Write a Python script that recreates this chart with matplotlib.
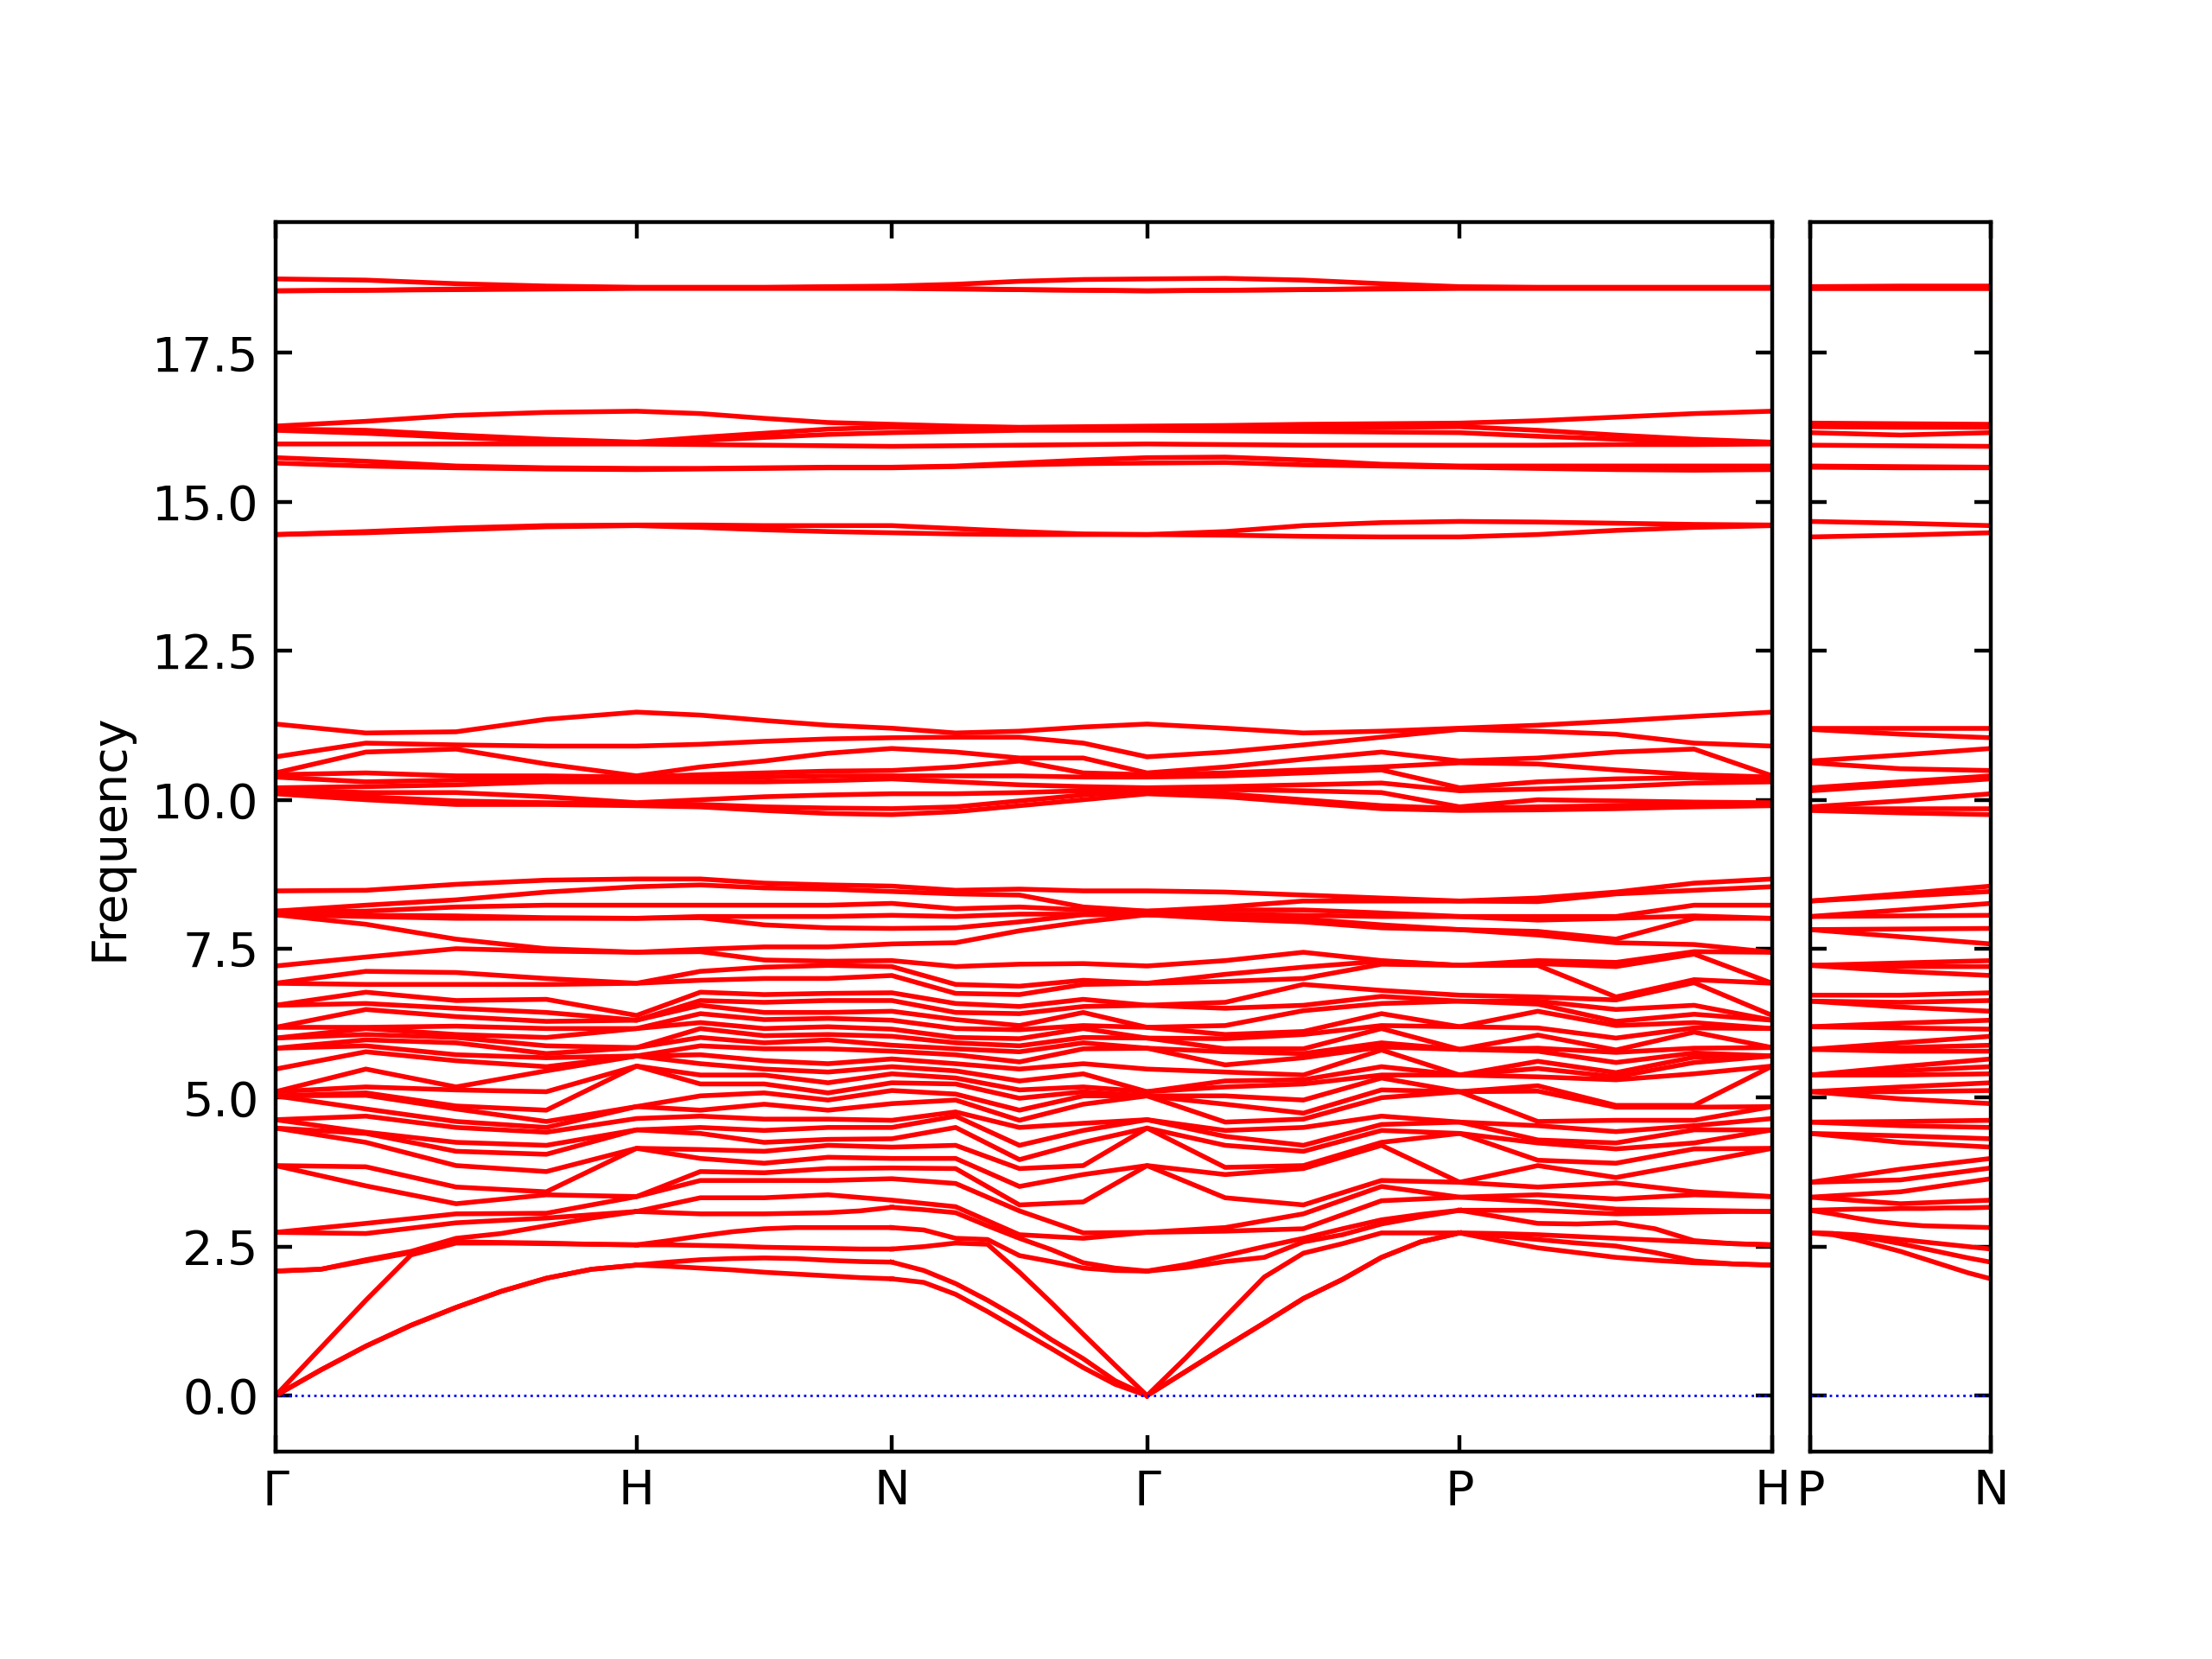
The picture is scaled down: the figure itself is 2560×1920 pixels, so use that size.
import numpy as np
import matplotlib
matplotlib.use("Agg")
import matplotlib.pyplot as plt

# ---------------- path description ----------------
path_labels = ["Γ", "H", "N", "Γ", "P", "H"]
segment_lengths = [1.0, 0.7071, 0.7071, 0.8660, 0.8660]
segment_fractions = [0.0, 0.25, 0.5, 0.75, 1.0]
fine_fractions = [0.0, 0.125, 0.25, 0.375, 0.5, 0.625, 0.75, 0.875, 1.0]
branch_labels = ["P", "N"]
branch_length = 0.5
branch_fractions = [0.0, 0.5, 1.0]

# ---------------- five lowest bands (acoustic region), finer sampling per segment ----------------
lowest_GH = [[0, 0.43, 0.83, 1.18, 1.48, 1.75, 1.97, 2.12, 2.19],
             [0, 0.43, 0.83, 1.18, 1.48, 1.75, 1.97, 2.12, 2.19],
             [0, 0.80, 1.60, 2.36, 2.56, 2.56, 2.55, 2.54, 2.53],
             [2.09, 2.12, 2.26, 2.40, 2.58, 2.57, 2.56, 2.54, 2.53],
             [2.09, 2.12, 2.28, 2.42, 2.64, 2.72, 2.85, 2.98, 3.09]]
lowest_HN = [[2.19, 2.17, 2.14, 2.11, 2.07, 2.04, 2.01, 1.98, 1.96],
             [2.19, 2.24, 2.28, 2.30, 2.31, 2.30, 2.27, 2.25, 2.24],
             [2.53, 2.53, 2.52, 2.51, 2.49, 2.48, 2.47, 2.46, 2.46],
             [2.53, 2.60, 2.68, 2.75, 2.80, 2.82, 2.82, 2.82, 2.82],
             [3.09, 3.07, 3.05, 3.05, 3.05, 3.06, 3.07, 3.10, 3.16]]
lowest_NG = [[1.96, 1.90, 1.70, 1.41, 1.10, 0.79, 0.47, 0.19, 0],
             [2.24, 2.10, 1.88, 1.60, 1.29, 0.94, 0.62, 0.25, 0],
             [2.46, 2.50, 2.56, 2.54, 2.07, 1.56, 1.03, 0.51, 0],
             [2.82, 2.78, 2.64, 2.62, 2.35, 2.25, 2.14, 2.10, 2.09],
             [3.16, 3.12, 3.07, 2.85, 2.64, 2.45, 2.23, 2.14, 2.09]]
lowest_GP = [[0, 0.41, 0.82, 1.22, 1.63, 1.95, 2.32, 2.58, 2.73],
             [0, 0.41, 0.82, 1.22, 1.63, 1.95, 2.32, 2.58, 2.73],
             [0, 0.64, 1.32, 1.99, 2.39, 2.55, 2.73, 2.73, 2.73],
             [2.09, 2.15, 2.25, 2.32, 2.58, 2.70, 2.88, 3.00, 3.11],
             [2.09, 2.20, 2.35, 2.50, 2.64, 2.80, 2.95, 3.04, 3.11]]
lowest_PH = [[2.73, 2.60, 2.48, 2.40, 2.32, 2.27, 2.23, 2.21, 2.19],
             [2.73, 2.68, 2.62, 2.56, 2.51, 2.40, 2.26, 2.21, 2.19],
             [2.73, 2.72, 2.70, 2.67, 2.64, 2.61, 2.58, 2.55, 2.53],
             [3.11, 3.00, 2.89, 2.88, 2.90, 2.80, 2.60, 2.55, 2.53],
             [3.11, 3.11, 3.11, 3.08, 3.05, 3.06, 3.08, 3.09, 3.09]]
lowest_PN = [[2.73, 2.70, 2.62, 2.52, 2.42, 2.30, 2.18, 2.06, 1.96],
             [2.73, 2.72, 2.68, 2.62, 2.55, 2.47, 2.39, 2.31, 2.24],
             [2.73, 2.72, 2.70, 2.66, 2.62, 2.58, 2.54, 2.50, 2.46],
             [3.11, 3.05, 2.98, 2.92, 2.88, 2.85, 2.84, 2.83, 2.82],
             [3.11, 3.12, 3.13, 3.13, 3.14, 3.14, 3.15, 3.15, 3.16]]

# ---------------- remaining bands below 9 (sorted values at each sample point) ----------------
rest_G = [2.74, 2.74, 3.86, 3.86, 4.49, 4.49, 4.63, 4.63, 5.03, 5.03, 5.03, 5.10, 5.10, 5.48, 5.83, 5.83,
          6.00, 6.00, 6.18, 6.18, 6.55, 6.55, 6.92, 6.92, 7.21, 8.07, 8.07, 8.07, 8.13, 8.13, 8.47]
rest_GH1 = [2.72, 2.89, 3.52, 3.84, 4.25, 4.40, 4.42, 4.69, 4.81, 5.04, 5.08, 5.18, 5.48, 5.77, 5.87, 5.97,
            6.06, 6.16, 6.18, 6.48, 6.58, 6.77, 6.90, 7.12, 7.36, 7.91, 8.04, 8.06, 8.13, 8.23, 8.48]
rest_GH2 = [2.90, 3.05, 3.22, 3.50, 3.86, 4.10, 4.25, 4.50, 4.60, 4.81, 4.86, 5.13, 5.18, 5.62, 5.72, 5.92,
            6.01, 6.06, 6.20, 6.36, 6.50, 6.63, 6.90, 7.10, 7.50, 7.66, 8.01, 8.05, 8.20, 8.32, 8.58]
rest_GH3 = [2.98, 3.06, 3.37, 3.42, 3.76, 4.05, 4.20, 4.42, 4.50, 4.60, 4.79, 5.10, 5.45, 5.52, 5.67, 5.74,
            5.87, 6.01, 6.16, 6.28, 6.43, 6.65, 6.90, 7.00, 7.46, 7.50, 8.01, 8.02, 8.23, 8.45, 8.65]
rest_H = [3.09, 3.34, 3.34, 4.15, 4.15, 4.46, 4.46, 4.65, 4.85, 4.85, 5.53, 5.53, 5.70, 5.70, 5.70, 5.84,
          5.84, 6.16, 6.16, 6.30, 6.30, 6.38, 6.92, 6.92, 7.44, 7.44, 8.01, 8.01, 8.23, 8.54, 8.67]
rest_HN1 = [3.32, 3.61, 3.76, 3.98, 4.13, 4.40, 4.50, 4.69, 4.79, 5.03, 5.23, 5.38, 5.57, 5.72, 5.87, 6.01,
            6.16, 6.26, 6.41, 6.55, 6.63, 6.77, 6.97, 7.12, 7.45, 7.49, 8.02, 8.04, 8.23, 8.57, 8.67]
rest_HN2 = [3.32, 3.61, 3.74, 3.90, 4.10, 4.25, 4.45, 4.64, 4.89, 5.08, 5.23, 5.38, 5.48, 5.62, 5.82, 5.92,
            6.04, 6.16, 6.31, 6.43, 6.60, 6.73, 7.00, 7.19, 7.31, 7.53, 7.90, 8.04, 8.23, 8.52, 8.60]
rest_HN3 = [3.37, 3.61, 3.81, 4.00, 4.20, 4.30, 4.50, 4.64, 4.79, 4.96, 5.08, 5.25, 5.43, 5.57, 5.82, 5.97,
            6.06, 6.19, 6.33, 6.43, 6.63, 6.75, 7.00, 7.22, 7.29, 7.53, 7.85, 8.04, 8.23, 8.50, 8.57]
rest_N = [3.28, 3.64, 3.82, 3.98, 4.17, 4.31, 4.50, 4.62, 4.90, 5.12, 5.25, 5.40, 5.52, 5.65, 5.78, 5.88,
          6.03, 6.15, 6.30, 6.45, 6.63, 6.76, 7.05, 7.20, 7.30, 7.58, 7.84, 8.06, 8.26, 8.46, 8.55]
rest_NG1 = [3.17, 3.56, 3.81, 3.98, 4.20, 4.50, 4.69, 4.76, 4.96, 5.06, 5.23, 5.33, 5.45, 5.57, 5.72, 5.82,
            5.92, 6.01, 6.16, 6.31, 6.43, 6.58, 6.75, 6.90, 7.20, 7.60, 7.85, 8.04, 8.17, 8.42, 8.48]
rest_NG2 = [2.70, 3.10, 3.20, 3.51, 3.81, 3.96, 4.20, 4.50, 4.62, 4.79, 4.99, 5.13, 5.28, 5.48, 5.60, 5.77,
            5.87, 5.99, 6.14, 6.21, 6.41, 6.53, 6.73, 6.87, 7.24, 7.80, 7.95, 8.08, 8.20, 8.40, 8.50]
rest_NG3 = [2.64, 2.73, 3.25, 3.71, 3.86, 4.25, 4.45, 4.57, 4.89, 5.03, 5.10, 5.18, 5.40, 5.57, 5.82, 5.92,
            6.01, 6.16, 6.21, 6.43, 6.53, 6.65, 6.90, 6.97, 7.25, 7.95, 8.07, 8.08, 8.15, 8.20, 8.47]
rest_GP1 = [2.76, 2.82, 3.32, 3.71, 3.83, 4.20, 4.35, 4.45, 4.59, 4.89, 5.03, 5.18, 5.28, 5.43, 5.55, 5.77,
            5.82, 5.99, 6.06, 6.21, 6.50, 6.60, 6.95, 7.07, 7.30, 8.00, 8.05, 8.08, 8.15, 8.20, 8.45]
rest_GP2 = [2.80, 3.05, 3.20, 3.81, 3.86, 4.10, 4.20, 4.50, 4.64, 4.74, 4.96, 5.23, 5.30, 5.38, 5.67, 5.74,
            5.82, 6.06, 6.11, 6.46, 6.55, 6.90, 7.00, 7.19, 7.44, 7.95, 8.00, 8.06, 8.15, 8.30, 8.40]
rest_GP3 = [3.27, 3.51, 3.61, 4.20, 4.25, 4.45, 4.55, 4.69, 5.00, 5.13, 5.33, 5.38, 5.52, 5.80, 5.85, 5.92,
            6.16, 6.21, 6.41, 6.58, 6.70, 6.80, 7.24, 7.29, 7.30, 7.85, 7.90, 8.04, 8.10, 8.30, 8.35]
rest_P = [3.33, 3.33, 3.58, 3.58, 4.40, 4.40, 4.59, 4.59, 5.10, 5.10, 5.10, 5.38, 5.38, 5.38, 5.81, 5.81,
          5.81, 6.19, 6.19, 6.62, 6.62, 6.72, 7.22, 7.22, 7.22, 7.82, 7.82, 8.04, 8.04, 8.30, 8.30]
rest_PH1 = [3.25, 3.37, 3.50, 3.86, 3.95, 4.24, 4.29, 4.53, 4.60, 5.11, 5.20, 5.35, 5.49, 5.61, 5.78, 5.83,
            6.05, 6.17, 6.45, 6.57, 6.62, 6.69, 7.22, 7.25, 7.30, 7.73, 7.79, 7.98, 8.04, 8.29, 8.35]
rest_PH2 = [3.13, 3.30, 3.57, 3.66, 3.90, 4.14, 4.24, 4.43, 4.62, 4.84, 4.87, 5.30, 5.35, 5.42, 5.59, 5.76,
            5.80, 6.00, 6.21, 6.28, 6.48, 6.64, 6.69, 7.20, 7.27, 7.60, 7.66, 8.01, 8.04, 8.42, 8.45]
rest_PH3 = [3.11, 3.37, 3.42, 3.90, 4.14, 4.24, 4.46, 4.53, 4.62, 4.84, 4.87, 5.40, 5.59, 5.68, 5.75, 5.83,
            6.10, 6.17, 6.26, 6.40, 6.55, 6.93, 6.98, 7.41, 7.45, 7.57, 8.01, 8.05, 8.23, 8.48, 8.60]
rest_PN_mid = [3.22, 3.42, 3.62, 3.80, 4.25, 4.36, 4.53, 4.60, 4.98, 5.10, 5.18, 5.38, 5.45, 5.52, 5.78, 5.84,
               5.92, 6.17, 6.25, 6.52, 6.60, 6.72, 7.12, 7.20, 7.26, 7.70, 7.83, 8.05, 8.15, 8.38, 8.42]

# ---------------- 10-11.5 cluster (sorted values at each sample point) ----------------
mid_G = [10.10, 10.15, 10.17, 10.20, 10.38, 10.42, 10.45, 10.72, 11.27]
mid_GH1 = [10.00, 10.05, 10.12, 10.22, 10.30, 10.45, 10.80, 10.95, 11.12]
mid_GH2 = [9.92, 9.98, 10.12, 10.25, 10.33, 10.40, 10.85, 10.92, 11.14]
mid_GH3 = [9.92, 9.95, 10.05, 10.30, 10.35, 10.40, 10.60, 10.90, 11.35]
mid_H = [9.90, 9.93, 9.95, 10.30, 10.33, 10.38, 10.40, 10.90, 11.47]
mid_HN1 = [9.88, 9.92, 10.00, 10.30, 10.35, 10.42, 10.55, 10.93, 11.42]
mid_HN2 = [9.82, 9.88, 10.05, 10.30, 10.38, 10.45, 10.65, 10.98, 11.33]
mid_HN3 = [9.77, 9.86, 10.08, 10.32, 10.40, 10.48, 10.78, 11.02, 11.25]
mid_N = [9.75, 9.85, 10.10, 10.35, 10.40, 10.49, 10.86, 11.04, 11.20]
mid_NG1 = [9.80, 9.88, 10.10, 10.30, 10.40, 10.55, 10.80, 11.05, 11.12]
mid_NG2 = [9.90, 9.98, 10.12, 10.25, 10.40, 10.65, 10.70, 11.05, 11.15]
mid_NG3 = [10.00, 10.08, 10.15, 10.22, 10.38, 10.45, 10.70, 10.95, 11.22]
mid_GP1 = [10.05, 10.10, 10.17, 10.22, 10.40, 10.45, 10.55, 10.80, 11.20]
mid_GP2 = [9.95, 10.00, 10.15, 10.25, 10.45, 10.50, 10.68, 10.92, 11.12]
mid_GP3 = [9.85, 9.90, 10.12, 10.28, 10.50, 10.55, 10.80, 11.05, 11.15]
mid_P = [9.82, 9.85, 9.88, 10.15, 10.20, 10.62, 10.65, 11.18, 11.20]
mid_PH1 = [9.83, 9.88, 10.00, 10.18, 10.30, 10.60, 10.70, 11.15, 11.25]
mid_PH2 = [9.85, 9.90, 9.98, 10.22, 10.35, 10.50, 10.80, 11.10, 11.32]
mid_PH3 = [9.88, 9.92, 9.96, 10.28, 10.37, 10.42, 10.85, 10.95, 11.40]
mid_PN_mid = [9.78, 9.85, 9.98, 10.25, 10.30, 10.52, 10.75, 11.10, 11.20]

# ---------------- high bands (one list per band, along the main path) ----------------
band_14a = [14.45, 14.50, 14.56, 14.60, 14.61, 14.61, 14.60, 14.60, 14.60, 14.55, 14.50, 14.46, 14.45,
            14.50, 14.60, 14.65, 14.67, 14.66, 14.64, 14.62, 14.61]
band_14b = [14.45, 14.48, 14.53, 14.58, 14.60, 14.57, 14.53, 14.50, 14.48, 14.46, 14.45, 14.45, 14.45,
            14.44, 14.42, 14.41, 14.41, 14.45, 14.52, 14.57, 14.60]
band_15a = [15.74, 15.68, 15.60, 15.57, 15.56, 15.56, 15.57, 15.58, 15.58, 15.60, 15.65, 15.70, 15.74,
            15.75, 15.70, 15.63, 15.60, 15.60, 15.60, 15.60, 15.60]
band_15b = [15.65, 15.60, 15.57, 15.55, 15.54, 15.55, 15.56, 15.57, 15.57, 15.59, 15.62, 15.64, 15.65,
            15.66, 15.62, 15.60, 15.58, 15.56, 15.54, 15.53, 15.54]
band_16a = [16.27, 16.35, 16.45, 16.50, 16.52, 16.48, 16.40, 16.33, 16.30, 16.27, 16.25, 16.26, 16.27,
            16.28, 16.30, 16.31, 16.32, 16.36, 16.42, 16.48, 16.52]
band_16b = [16.22, 16.20, 16.12, 16.05, 16.00, 16.08, 16.15, 16.22, 16.25, 16.24, 16.23, 16.22, 16.22,
            16.23, 16.24, 16.25, 16.26, 16.20, 16.12, 16.05, 16.00]
band_16c = [16.20, 16.15, 16.08, 16.02, 15.99, 16.03, 16.08, 16.13, 16.16, 16.18, 16.20, 16.20, 16.20,
            16.19, 16.18, 16.17, 16.16, 16.10, 16.05, 16.00, 15.99]
band_16d = [15.97, 15.97, 15.97, 15.97, 15.97, 15.96, 15.95, 15.94, 15.93, 15.94, 15.95, 15.96, 15.97,
            15.96, 15.95, 15.95, 15.95, 15.95, 15.96, 15.96, 15.97]
band_18a = [18.74, 18.72, 18.66, 18.62, 18.60, 18.60, 18.60, 18.61, 18.62, 18.65, 18.70, 18.73, 18.74,
            18.75, 18.72, 18.66, 18.61, 18.60, 18.60, 18.60, 18.60]
band_18b = [18.54, 18.55, 18.57, 18.58, 18.59, 18.59, 18.59, 18.60, 18.60, 18.58, 18.56, 18.55, 18.54,
            18.55, 18.56, 18.58, 18.59, 18.59, 18.59, 18.59, 18.59]
band_18c = [18.54, 18.55, 18.56, 18.57, 18.58, 18.58, 18.58, 18.58, 18.58, 18.57, 18.56, 18.55, 18.54,
            18.55, 18.56, 18.57, 18.58, 18.58, 18.58, 18.58, 18.58]

# high bands on the P-N branch (P, middle, N)
pn_14a = [14.67, 14.64, 14.60]
pn_14b = [14.41, 14.44, 14.48]
pn_15a = [15.60, 15.59, 15.58]
pn_15b = [15.58, 15.57, 15.57]
pn_16a = [16.32, 16.31, 16.30]
pn_16b = [16.26, 16.25, 16.25]
pn_16c = [16.16, 16.12, 16.16]
pn_16d = [15.95, 15.94, 15.93]
pn_18a = [18.61, 18.62, 18.62]
pn_18b = [18.59, 18.60, 18.60]
pn_18c = [18.58, 18.58, 18.58]

# ---------------- assemble ----------------
rest_main = np.array([rest_G, rest_GH1, rest_GH2, rest_GH3, rest_H, rest_HN1, rest_HN2, rest_HN3, rest_N,
                      rest_NG1, rest_NG2, rest_NG3, rest_G, rest_GP1, rest_GP2, rest_GP3, rest_P,
                      rest_PH1, rest_PH2, rest_PH3, rest_H])
mid_main = np.array([mid_G, mid_GH1, mid_GH2, mid_GH3, mid_H, mid_HN1, mid_HN2, mid_HN3, mid_N,
                     mid_NG1, mid_NG2, mid_NG3, mid_G, mid_GP1, mid_GP2, mid_GP3, mid_P,
                     mid_PH1, mid_PH2, mid_PH3, mid_H])
high_main = np.array([band_14a, band_14b, band_15a, band_15b, band_16a, band_16b, band_16c, band_16d,
                      band_18a, band_18b, band_18c]).T
rest_pn = np.array([rest_P, rest_PN_mid, rest_N])
mid_pn = np.array([mid_P, mid_PN_mid, mid_N])
high_pn = np.array([pn_14a, pn_14b, pn_15a, pn_15b, pn_16a, pn_16b, pn_16c, pn_16d,
                    pn_18a, pn_18b, pn_18c]).T
lowest_segments = [lowest_GH, lowest_HN, lowest_NG, lowest_GP, lowest_PH]

nodes = np.concatenate([[0.0], np.cumsum(segment_lengths)])
xs = [0.0]
for i, L in enumerate(segment_lengths):
    for f in segment_fractions[1:]:
        xs.append(nodes[i] + f * L)
xs = np.array(xs)
xs2 = np.array(branch_fractions) * branch_length

# ---------------- figure ----------------
fig = plt.figure(figsize=(6.4, 4.8), dpi=400)
ax1 = fig.add_axes([0.1246, 0.125, 0.6766, 0.741])
ax2 = fig.add_axes([0.8184, 0.125, 0.0816, 0.741])

ylim = (-0.94, 19.69)
for i, bands in enumerate(lowest_segments):
    xseg = nodes[i] + np.array(fine_fractions) * segment_lengths[i]
    ax1.plot(xseg, np.array(bands).T, 'r-', linewidth=1)
for arr in (rest_main, mid_main, high_main):
    ax1.plot(xs, arr, 'r-', linewidth=1)

ax2.plot(np.array(fine_fractions) * branch_length, np.array(lowest_PN).T, 'r-', linewidth=1)
for arr in (rest_pn, mid_pn, high_pn):
    ax2.plot(xs2, arr, 'r-', linewidth=1)

for ax in (ax1, ax2):
    ax.axhline(0, linestyle=':', linewidth=0.5, color='b')
    ax.set_ylim(*ylim)
    ax.tick_params(axis='both', which='both', direction='in', top=True, right=True)

ax1.set_xlim(nodes[0], nodes[-1])
ax1.set_xticks(nodes)
ax1.set_xticklabels(path_labels)
ax1.set_ylabel("Frequency")

ax2.set_xlim(0, branch_length)
ax2.set_xticks([0, branch_length])
ax2.set_xticklabels(branch_labels)
ax2.set_yticks(ax1.get_yticks())
ax2.set_ylim(*ylim)
ax2.set_yticklabels([])

fig.savefig("out.png", dpi=400)
